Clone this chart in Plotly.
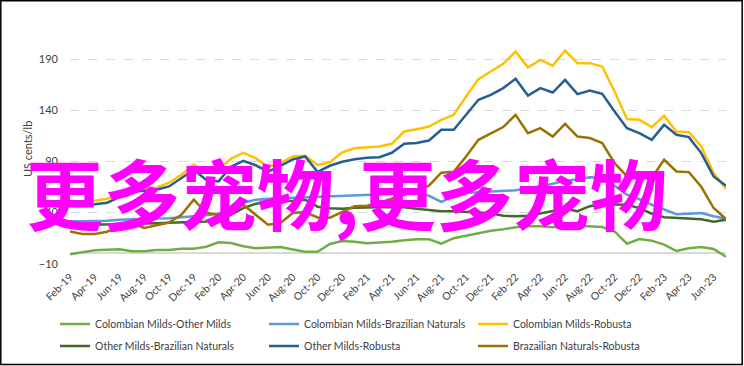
import plotly.graph_objects as go

months = ["Feb-19","Mar-19","Apr-19","May-19","Jun-19","Jul-19","Aug-19","Sep-19","Oct-19","Nov-19","Dec-19","Jan-20",
          "Feb-20","Mar-20","Apr-20","May-20","Jun-20","Jul-20","Aug-20","Sep-20","Oct-20","Nov-20","Dec-20","Jan-21",
          "Feb-21","Mar-21","Apr-21","May-21","Jun-21","Jul-21","Aug-21","Sep-21","Oct-21","Nov-21","Dec-21","Jan-22",
          "Feb-22","Mar-22","Apr-22","May-22","Jun-22","Jul-22","Aug-22","Sep-22","Oct-22","Nov-22","Dec-22","Jan-23",
          "Feb-23","Mar-23","Apr-23","May-23","Jun-23","Jul-23"]

col_other = [-0.7, 1.2, 3.2, 3.7, 4.0, 2.2, 2.2, 3.4, 3.4, 4.6, 4.6, 6.6,
             11.0, 10.2, 7.1, 5.0, 5.3, 6.3, 3.9, 1.7, 1.7, 9.3, 12.2, 11.5,
             10.0, 10.5, 11.5, 13.0, 13.9, 13.9, 9.5, 14.9, 17.3, 19.8, 22.2, 23.7,
             25.6, 26.6, 26.6, 25.6, 27.6, 27.1, 26.6, 25.9, 21.5, 9.5, 14.1, 12.5,
             8.6, 2.4, 5.1, 6.3, 4.4, -3.2]

col_braz = [31.3, 31.5, 31.5, 32.0, 33.0, 33.3, 33.6, 33.9, 34.4, 35.4, 36.2, 37.3,
            38.8, 43.7, 49.6, 52.5, 53.5, 54.0, 54.5, 55.0, 55.4, 55.9, 56.4, 56.9,
            57.4, 57.7, 58.1, 58.8, 59.0, 56.4, 50.5, 55.7, 59.0, 59.8, 60.6, 60.8,
            61.8, 63.7, 65.5, 68.1, 71.0, 72.5, 74.4, 74.0, 66.2, 57.4, 53.0, 47.6,
            42.7, 38.3, 38.8, 39.5, 36.4, 33.9]

col_rob = [51.0, 50.5, 51.5, 53.5, 57.9, 62.3, 63.5, 64.2, 69.1, 76.9, 86.7, 79.8,
           81.8, 92.5, 98.4, 93.2, 84.7, 88.3, 94.8, 95.5, 86.4, 89.1, 98.9, 102.8,
           103.8, 104.6, 107.2, 119.2, 121.5, 124.0, 130.6, 135.5, 153.4, 170.4, 177.8, 185.3,
           197.3, 182.0, 189.2, 183.6, 198.3, 186.0, 186.0, 182.7, 158.3, 131.3, 130.6, 123.5,
           134.5, 119.2, 118.6, 104.6, 78.6, 63.0]

oth_braz = [27.6, 27.8, 28.1, 28.1, 28.6, 29.1, 29.3, 29.6, 30.0, 30.3, 31.0, 31.3,
            33.5, 37.9, 44.3, 48.6, 50.1, 50.6, 51.5, 52.5, 45.7, 44.3, 43.7, 44.7,
            45.2, 45.2, 45.2, 45.2, 43.7, 42.7, 41.3, 41.3, 40.8, 40.3, 39.3, 36.9,
            36.4, 36.9, 39.3, 41.7, 43.7, 41.3, 46.2, 48.1, 47.6, 47.6, 44.3, 38.8,
            35.4, 34.6, 33.9, 33.5, 31.0, 33.0]

oth_rob = [48.6, 47.3, 48.1, 49.6, 55.0, 60.3, 61.3, 62.3, 65.5, 73.7, 81.8, 72.0,
           70.4, 84.7, 90.6, 86.2, 80.1, 85.7, 92.0, 94.8, 79.8, 85.7, 89.6, 92.0,
           93.5, 94.0, 98.4, 107.2, 107.9, 110.4, 120.9, 120.9, 135.5, 150.2, 155.0, 161.6,
           170.7, 154.4, 161.6, 157.3, 169.7, 155.7, 159.2, 156.0, 138.7, 122.5, 117.6, 111.1,
           125.7, 116.0, 113.7, 98.1, 75.3, 66.2]

braz_rob = [21.5, 19.0, 19.0, 21.2, 26.4, 29.5, 24.9, 27.4, 30.3, 37.9, 52.5, 39.8,
            37.9, 42.7, 47.6, 37.9, 28.1, 29.7, 39.5, 40.5, 35.2, 35.0, 40.8, 46.2,
            46.6, 49.6, 53.5, 57.4, 61.3, 66.2, 78.9, 79.8, 94.8, 111.1, 117.6, 123.5,
            135.5, 117.6, 122.5, 114.3, 126.7, 114.3, 112.8, 107.9, 88.3, 75.3, 73.7, 73.7,
            91.6, 80.1, 79.5, 65.2, 44.4, 33.7]

series_names = ["Colombian Milds-Other Milds", "Colombian Milds-Brazilian Naturals", "Colombian Milds-Robusta",
                "Other Milds-Brazilian Naturals", "Other Milds-Robusta", "Brazailian Naturals-Robusta"]
series_values = [col_other, col_braz, col_rob, oth_braz, oth_rob, braz_rob]
series_colors = ["#70AD47", "#5B9BD5", "#FFC000", "#43682B", "#255E91", "#997300"]
series_legend = ["legend", "legend", "legend", "legend2", "legend2", "legend2"]

y_ticks = [-10, 40, 90, 140, 190]
overlay_text = "更多宠物,更多宠物"
y_title = "US cents/lb"

idx = list(range(len(months)))
tick_idx = idx[::2]
tick_txt = months[::2]

fig = go.Figure()
for name, vals, col, lg in zip(series_names, series_values, series_colors, series_legend):
    fig.add_trace(go.Scatter(x=idx, y=vals, mode="lines", name=name,
                             line=dict(color=col, width=2.5), legend=lg))

W, H = 744, 366
L, R, T, B = 70, 18, 34, 102
pw, ph = W - L - R, H - T - B

def px_x(p):
    return (p - L) / pw

def px_y(p):
    return (H - B - p) / ph

def cx(p):
    return p / W

def cy(p):
    return 1 - p / H

font_fam = "Lato, 'Open Sans', sans-serif"

leg_common = dict(orientation="h", xanchor="left", yanchor="middle",
                  xref="container", yref="container",
                  entrywidth=164, entrywidthmode="pixels",
                  font=dict(size=10.5, color="#404040"),
                  bgcolor="rgba(0,0,0,0)", itemwidth=30, borderwidth=0)

fig.update_layout(
    width=W, height=H,
    margin=dict(l=L, r=R, t=T, b=B, pad=0, autoexpand=False),
    paper_bgcolor="white", plot_bgcolor="white",
    font=dict(family=font_fam, size=11, color="#404040"),
    xaxis=dict(range=[0, len(months) - 1], tickvals=tick_idx, ticktext=tick_txt,
               tickangle=-45, showgrid=False, zeroline=False, showline=False,
               ticks="", automargin=False, ticklabelstandoff=4,
               tickfont=dict(size=10.5, color="#404040")),
    yaxis=dict(range=[-10.3, 214.5], tickvals=y_ticks, showgrid=True,
               gridcolor="#d9d9d9", griddash="dash", gridwidth=1,
               zeroline=True, zerolinecolor="#d9d9d9", zerolinewidth=1.5,
               showline=False, ticks="", automargin=False, ticklabelstandoff=11,
               tickfont=dict(size=11, color="#404040")),
    legend=dict(x=cx(55), y=cy(324), **leg_common),
    legend2=dict(x=cx(55), y=cy(346), **leg_common),
    showlegend=True,
    shapes=[dict(type="rect", xref="paper", yref="paper",
                 x0=px_x(0.8), x1=px_x(742.2), y0=px_y(364.5), y1=px_y(0.8),
                 line=dict(color="black", width=1.5), fillcolor="rgba(0,0,0,0)", layer="above")],
    annotations=[
        dict(text=y_title, xref="paper", yref="paper", x=px_x(27), y=px_y(149),
             xanchor="center", yanchor="middle", textangle=-90, showarrow=False,
             font=dict(size=11, color="#404040")),
        dict(text="<b>" + overlay_text + "</b>", xref="paper", yref="paper",
             x=px_x(346), y=px_y(191), xanchor="center", yanchor="middle",
             showarrow=False,
             font=dict(family="Noto Sans CJK SC", size=77, color="#FF00FF")),
    ],
)

fig.write_html("out.html", config={"displayModeBar": False},
               post_script="document.body.style.margin='0';")
